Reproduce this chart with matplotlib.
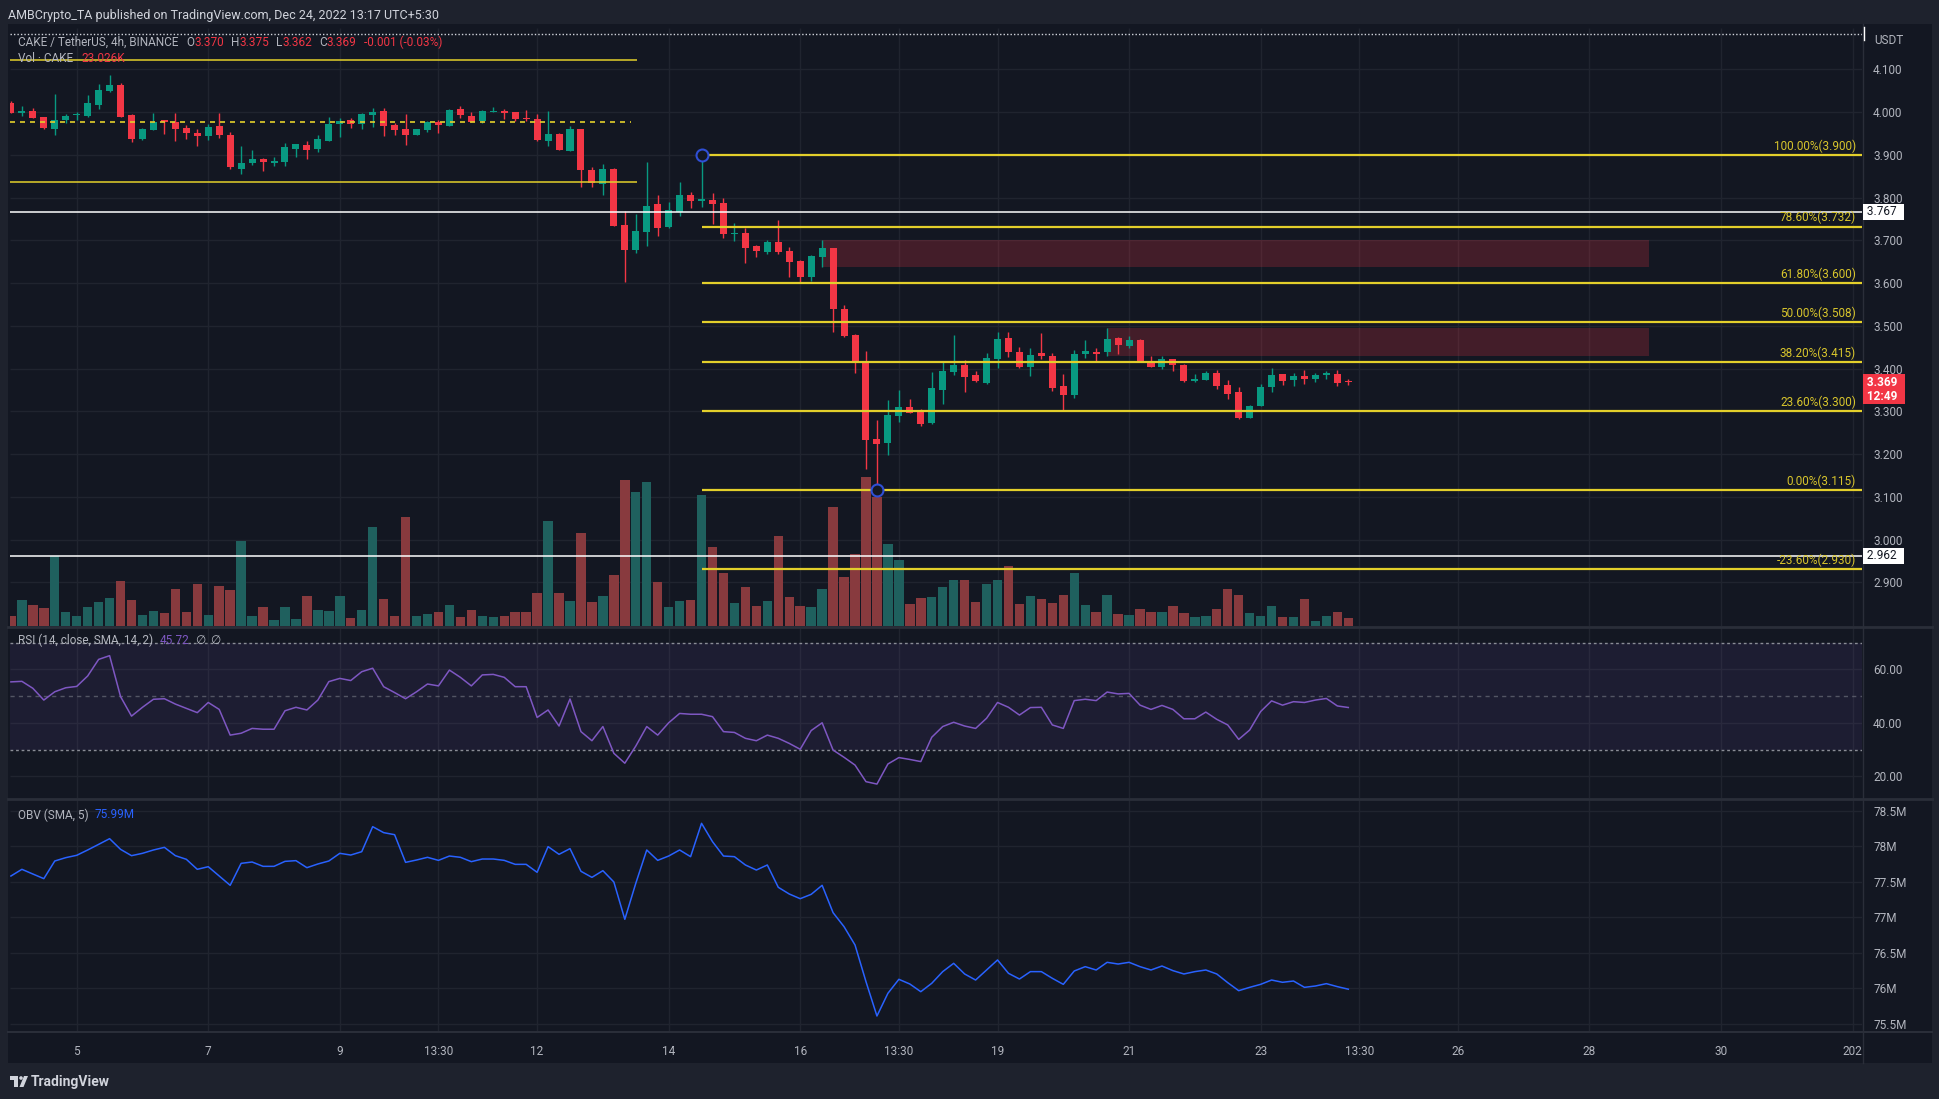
import matplotlib
matplotlib.use('Agg')
import matplotlib.pyplot as plt
from matplotlib.patches import Rectangle, Polygon, Circle
from matplotlib.transforms import blended_transform_factory as blend
from matplotlib.ticker import FuncFormatter
import numpy as np
import pandas as pd

# ---------------------------------------------------------------- data
first_bar = '2022-12-04 01:30'
bar_freq = '4h'

opens = [4.021,3.999,4.003,3.989,3.961,3.982,3.993,3.991,4.017,4.049,
         4.063,3.993,3.937,3.958,3.982,3.977,3.963,3.951,3.944,3.968,
         3.946,3.867,3.881,3.890,3.882,3.883,3.914,3.923,3.914,3.932,
         3.972,3.982,3.972,3.993,4.003,3.970,3.961,3.946,3.958,3.977,
         3.968,4.007,3.991,3.979,4.000,4.003,4.000,3.986,3.984,3.932,
         3.949,3.909,3.961,3.865,3.832,3.867,3.736,3.677,3.720,3.785,
         3.731,3.766,3.806,3.793,3.795,3.787,3.715,3.717,3.687,3.673,
         3.696,3.675,3.652,3.614,3.661,3.682,3.539,3.478,3.415,3.235,
         3.226,3.290,3.310,3.299,3.273,3.350,3.392,3.408,3.385,3.366,
         3.422,3.472,3.439,3.404,3.437,3.430,3.359,3.338,3.434,3.439,
         3.439,3.472,3.453,3.467,3.418,3.404,3.422,3.408,3.371,3.373,
         3.390,3.362,3.345,3.284,3.312,3.357,3.387,3.373,3.383,3.376,
         3.385,3.387,3.370]
highs = [4.026,4.014,4.010,3.989,4.042,3.996,4.000,4.040,4.066,4.087,
         4.068,3.996,3.963,3.998,3.982,3.999,3.970,3.960,3.972,3.998,
         3.954,3.921,3.911,3.893,3.895,3.928,3.925,3.932,3.946,3.989,
         3.986,3.986,3.998,4.010,4.010,3.975,3.996,3.961,3.979,3.982,
         4.007,4.014,4.000,4.005,4.012,4.007,4.000,4.005,3.996,4.003,
         3.951,3.968,3.961,3.872,3.879,3.869,3.769,3.762,3.883,3.806,
         3.790,3.837,3.813,3.900,3.811,3.799,3.741,3.729,3.689,3.701,
         3.748,3.684,3.654,3.666,3.701,3.682,3.549,3.481,3.441,3.280,
         3.326,3.350,3.329,3.305,3.392,3.418,3.479,3.420,3.394,3.436,
         3.486,3.486,3.451,3.448,3.483,3.437,3.387,3.444,3.467,3.448,
         3.495,3.474,3.476,3.469,3.429,3.429,3.422,3.411,3.387,3.394,
         3.397,3.373,3.357,3.315,3.364,3.401,3.387,3.390,3.397,3.390,
         3.394,3.397,3.375]
lows = [3.999,3.992,3.987,3.961,3.946,3.975,3.982,3.989,4.007,4.048,
        3.989,3.929,3.936,3.958,3.950,3.932,3.937,3.921,3.935,3.939,
        3.867,3.855,3.876,3.862,3.874,3.874,3.895,3.890,3.907,3.932,
        3.942,3.963,3.961,3.965,3.944,3.946,3.923,3.946,3.953,3.951,
        3.968,3.986,3.978,3.975,4.000,3.984,3.979,3.979,3.932,3.921,
        3.911,3.909,3.825,3.825,3.806,3.734,3.602,3.670,3.687,3.710,
        3.729,3.757,3.776,3.778,3.738,3.705,3.698,3.647,3.661,3.668,
        3.668,3.614,3.600,3.605,3.638,3.486,3.474,3.390,3.165,3.115,
        3.198,3.276,3.295,3.266,3.270,3.317,3.385,3.345,3.369,3.364,
        3.401,3.427,3.401,3.383,3.422,3.348,3.303,3.331,3.425,3.418,
        3.430,3.434,3.448,3.415,3.404,3.399,3.394,3.369,3.369,3.373,
        3.352,3.329,3.282,3.284,3.312,3.345,3.362,3.359,3.364,3.369,
        3.376,3.359,3.362]
closes = [3.999,4.003,3.987,3.963,3.982,3.992,3.995,4.021,4.052,4.063,
          3.989,3.938,3.961,3.977,3.977,3.961,3.951,3.944,3.965,3.946,
          3.872,3.881,3.890,3.884,3.886,3.918,3.925,3.911,3.937,3.972,
          3.979,3.972,3.996,4.000,3.968,3.958,3.946,3.961,3.977,3.970,
          4.005,3.993,3.978,4.003,4.002,3.998,3.984,3.984,3.935,3.949,
          3.911,3.961,3.865,3.834,3.867,3.734,3.677,3.722,3.780,3.729,
          3.771,3.806,3.792,3.797,3.785,3.715,3.717,3.682,3.675,3.696,
          3.673,3.649,3.614,3.663,3.682,3.539,3.476,3.415,3.233,3.224,
          3.291,3.310,3.295,3.270,3.355,3.394,3.408,3.380,3.371,3.425,
          3.469,3.439,3.404,3.432,3.430,3.355,3.338,3.434,3.441,3.434,
          3.469,3.455,3.467,3.418,3.404,3.422,3.408,3.371,3.376,3.390,
          3.359,3.341,3.284,3.312,3.357,3.385,3.371,3.383,3.376,3.385,
          3.390,3.366,3.369]
volume_k = [29,75,60,52,202,40,29,55,69,81,
            130,75,32,43,37,107,40,121,32,115,
            104,245,29,55,17,55,20,86,46,43,
            86,23,46,285,78,29,314,29,35,40,
            60,26,46,29,26,29,40,40,95,302,
            95,72,268,69,86,147,420,386,415,127,
            55,72,75,377,228,153,66,112,58,72,
            259,84,58,55,107,343,141,207,429,372,
            236,190,63,81,84,112,132,132,69,121,
            132,173,63,86,78,66,89,153,60,40,
            89,35,32,49,40,40,58,37,26,29,
            49,107,89,37,29,58,26,26,78,14,
            29,40,23.026]
rsi = [55.3,55.5,52.9,48.5,51.6,53.1,53.6,57.5,63.7,65.1,
       49.8,42.5,45.8,48.8,49.0,47.0,45.4,43.8,47.6,45.0,
       35.4,36.1,37.9,37.6,37.6,44.5,45.8,44.8,48.5,55.4,
       56.6,55.8,59.1,60.4,53.5,51.3,49.0,51.6,54.5,53.8,
       59.7,57.0,53.8,57.9,58.1,57.0,53.5,53.5,42.0,44.8,
       38.8,48.9,36.7,33.3,38.6,28.6,24.9,31.3,38.6,35.4,
       40.0,43.5,43.2,43.2,42.3,36.7,36.4,34.2,33.3,35.4,
       34.2,32.3,30.1,37.1,40.0,29.8,27.1,24.2,18.0,17.1,
       24.6,27.0,26.3,25.5,34.6,38.6,40.2,38.8,37.9,41.7,
       47.6,45.8,42.9,45.7,45.8,39.2,37.9,48.3,48.8,48.3,
       51.5,50.8,51.0,46.6,45.0,46.5,45.0,41.5,41.5,44.0,
       41.3,39.2,33.8,37.3,44.2,48.2,46.6,47.9,47.6,48.5,
       49.1,46.3,45.72]
obv_m = [77.582,77.676,77.610,77.545,77.793,77.840,77.873,77.948,78.027,78.107,
         77.957,77.868,77.901,77.948,77.985,77.868,77.817,77.676,77.713,77.582,
         77.451,77.760,77.779,77.718,77.718,77.788,77.798,77.699,77.751,77.793,
         77.901,77.877,77.924,78.276,78.192,78.163,77.774,77.807,77.845,77.802,
         77.863,77.845,77.784,77.821,77.821,77.802,77.746,77.746,77.634,77.995,
         77.887,77.967,77.648,77.563,77.657,77.498,76.973,77.479,77.948,77.802,
         77.863,77.948,77.854,78.323,78.065,77.863,77.854,77.737,77.666,77.737,
         77.423,77.329,77.263,77.324,77.451,77.066,76.869,76.612,76.096,75.613,
         75.932,76.129,76.063,75.955,76.073,76.237,76.354,76.204,76.119,76.260,
         76.401,76.213,76.133,76.237,76.237,76.143,76.058,76.246,76.307,76.260,
         76.368,76.344,76.368,76.307,76.260,76.316,76.251,76.204,76.237,76.260,
         76.204,76.082,75.969,76.016,76.058,76.119,76.087,76.105,76.016,76.035,
         76.068,76.026,75.99]

price_ticks = [2.9, 3.0, 3.1, 3.2, 3.3, 3.4, 3.5, 3.6, 3.7, 3.8, 3.9, 4.0, 4.1]
rsi_ticks = [20, 40, 60]
obv_ticks = [75.5, 76.0, 76.5, 77.0, 77.5, 78.0, 78.5]
tick_times = ['2022-12-05 01:30', '2022-12-07 01:30', '2022-12-09 01:30', '2022-12-10 13:30',
              '2022-12-12 01:30', '2022-12-14 01:30', '2022-12-16 01:30', '2022-12-17 13:30',
              '2022-12-19 01:30', '2022-12-21 01:30', '2022-12-23 01:30', '2022-12-24 13:30',
              '2022-12-26 01:30', '2022-12-28 01:30', '2022-12-30 01:30', '2023-01-01 01:30']
tick_labels = ['5', '7', '9', '13:30', '12', '14', '16', '13:30', '19', '21', '23', '13:30',
               '26', '28', '30', '202']

fib_labels = ['100.00%', '78.60%', '61.80%', '50.00%', '38.20%', '23.60%', '0.00%', '-23.60%']
fib_prices = [3.900, 3.732, 3.600, 3.508, 3.415, 3.300, 3.115, 2.930]
fib_high_bar = 63
fib_low_bar = 79
zones = [(74, 149.4, 3.638, 3.701), (100, 149.4, 3.4295, 3.495)]
yellow_solid_lines = [4.121, 3.837]
yellow_solid_end = 57.1
yellow_dashed_line = 3.978
yellow_dashed_end = 56.6
white_lines = [3.767, 2.962]
dotted_line = 4.184
last_price = 3.369

# ---------------------------------------------------------------- style
plt.rcParams['font.family'] = ['Roboto', 'DejaVu Sans']
W, H = 1940, 1099
BG = '#131722'; FRAME = '#1e222d'; GRID = '#20242f'; SEP = '#2a2e39'
TXT = '#b2b5be'; UP = '#089981'; DN = '#f23645'
UPV = '#1f605e'; DNV = '#883a3e'
FIB = '#e3cf2b'; FIBT = '#d8c52c'
FS = 8.5

o = np.array(opens); h = np.array(highs); l = np.array(lows); c = np.array(closes)
idx = np.arange(len(c))
up = c >= o
cols = [UP if u else DN for u in up]
vcols = [UPV if u else DNV for u in up]
t0 = pd.Timestamp(first_bar)
tick_pos = [(pd.Timestamp(t) - t0) / pd.Timedelta(bar_freq) for t in tick_times]

fig = plt.figure(figsize=(W / 100, H / 100), dpi=100, facecolor=FRAME)


def px_rect(x0, y0, x1, y1):
    return [x0 / W, 1 - y1 / H, (x1 - x0) / W, (y1 - y0) / H]


bk = fig.add_axes([0, 0, 1, 1], zorder=-5)
bk.set_xlim(0, W); bk.set_ylim(H, 0); bk.axis('off')
bk.add_patch(Rectangle((8, 24), 1924, 1039, fc=BG, ec='none'))

XL = (-0.085, 168.86)
main_rect = px_rect(10, 28, 1862, 626)
axv = fig.add_axes(main_rect, zorder=1)
ax = fig.add_axes(main_rect, zorder=2, sharex=axv)
axr = fig.add_axes(px_rect(10, 628, 1862, 798), zorder=1, sharex=axv)
axo = fig.add_axes(px_rect(10, 800, 1862, 1031), zorder=1, sharex=axv)
for a in (axv, ax, axr, axo):
    a.set_facecolor('none')
    for s in a.spines.values():
        s.set_visible(False)
ax.patch.set_visible(False)
axv.set_xlim(*XL)
ax.set_ylim(2.7977, 4.1969)
axr.set_ylim(11.89, 75.44)
axo.set_ylim(75.402, 78.651)

# grid
axv.hlines(price_ticks, 0, 1, transform=blend(axv.transAxes, ax.transData), colors=GRID, lw=1, zorder=0)
axr.hlines(rsi_ticks, 0, 1, transform=blend(axr.transAxes, axr.transData), colors=GRID, lw=1, zorder=0)
axo.hlines(obv_ticks, 0, 1, transform=blend(axo.transAxes, axo.transData), colors=GRID, lw=1, zorder=0)
for a in (axv, axr, axo):
    a.vlines(tick_pos, 0, 1, transform=blend(a.transData, a.transAxes), colors=GRID, lw=1, zorder=0)

# volume
axv.bar(idx, volume_k, width=0.86, color=vcols, zorder=2, linewidth=0)
axv.set_ylim(0, 1722)
axv.set_yticks([])

# zones
for x0, x1, lo, hi in zones:
    ax.add_patch(Rectangle((x0, lo), x1 - x0, hi - lo, fc=DN, alpha=0.22, ec='none', zorder=3))

# candles
ax.vlines(idx, l, h, colors=cols, lw=1.0, zorder=5)
ax.bar(idx, np.maximum(np.abs(c - o), 0.0025), bottom=np.minimum(o, c), width=0.64,
       color=cols, zorder=6, linewidth=0)

# drawings
ax.hlines(yellow_solid_lines, XL[0], yellow_solid_end, colors=FIB, lw=1.1, zorder=7)
ax.hlines(yellow_dashed_line, XL[0], yellow_dashed_end, colors=FIB, lw=1.2,
          linestyles=(0, (3, 3)), zorder=7)
ax.hlines(white_lines, XL[0], XL[1], colors='white', lw=1.1, zorder=7)
ax.hlines(dotted_line, XL[0], XL[1], colors='#d1d4dc', lw=1.0, linestyles=(0, (1, 1.5)), zorder=7)
ax.hlines(fib_prices, fib_high_bar, XL[1], colors=FIB, lw=1.6, zorder=7)
ax.plot([fib_high_bar, fib_low_bar], [fib_prices[0], fib_prices[6]], 'o', ms=8.6, mfc=BG,
        mec='#2f4fd6', mew=1.5, zorder=8)

# RSI
axr.axhspan(30, 70, color='#7e57c2', alpha=0.1, lw=0, zorder=1)
axr.axhline(70, color='#8a8d96', lw=1, ls=(0, (2, 2)), zorder=2)
axr.axhline(30, color='#8a8d96', lw=1, ls=(0, (2, 2)), zorder=2)
axr.axhline(50, color='#787b86', lw=1, ls=(0, (3, 3)), alpha=0.6, zorder=2)
axr.plot(idx, rsi, color='#7e57c2', lw=1.1, zorder=3)

# OBV
axo.plot(idx, obv_m, color='#2962ff', lw=1.1, zorder=3)

# ticks
for a in (ax, axr, axo):
    a.yaxis.tick_right()
    a.tick_params(axis='y', length=0, pad=8, labelsize=FS, labelcolor=TXT)
ax.set_yticks(price_ticks)
ax.yaxis.set_major_formatter(FuncFormatter(lambda v, p: f'{v:.3f}'))
axr.set_yticks(rsi_ticks)
axr.yaxis.set_major_formatter(FuncFormatter(lambda v, p: f'{v:.2f}'))
axo.set_yticks(obv_ticks)
axo.yaxis.set_major_formatter(FuncFormatter(lambda v, p: f'{v:g}M'))
axo.set_xticks(tick_pos)
axo.set_xticklabels(tick_labels)
for a in (axv, ax, axr):
    a.tick_params(axis='x', length=0, labelbottom=False)
axo.tick_params(axis='x', length=0, pad=10, labelsize=FS, labelcolor=TXT)

# ---------------------------------------------------------------- overlay texts
ov = fig.add_axes([0, 0, 1, 1], zorder=10)
ov.set_xlim(0, W); ov.set_ylim(H, 0); ov.axis('off')

for y in (627, 799):
    ov.plot([8, 1932], [y, y], color=SEP, lw=2)
ov.plot([8, 1932], [1032, 1032], color=SEP, lw=1.5)
ov.plot([1863, 1863], [24, 1063], color=SEP, lw=1)
ov.plot([1864, 1864], [27, 40], color='white', lw=1)

ov.text(8, 15, 'AMBCrypto_TA published on TradingView.com, Dec 24, 2022 13:17 UTC+5:30',
        color='#d1d4dc', fontsize=9, va='center', ha='left')


def chain(x, y, parts, size=FS, gap=4):
    t = ov.text(x, y, parts[0][0], color=parts[0][1], fontsize=size, va='center', ha='left')
    for item in parts[1:]:
        g = item[2] if len(item) > 2 else gap
        t = ov.annotate(item[0], xy=(1, 0.5), xycoords=t, xytext=(g, 0), textcoords='offset pixels',
                        color=item[1], fontsize=size, va='center', ha='left', annotation_clip=False)
    return t


chain(18, 42.5, [('CAKE / TetherUS, 4h, BINANCE', TXT), ('O', TXT, 8), ('3.370', DN, 0),
                 ('H', TXT, 7), ('3.375', DN, 0), ('L', TXT, 7), ('3.362', DN, 0),
                 ('C', TXT, 7), ('3.369', DN, 0), ('-0.001 (-0.03%)', DN, 7)])
chain(18, 58.5, [('Vol · CAKE', TXT), ('23.026K', DN, 8)])
chain(18, 640.5, [('RSI (14, close, SMA, 14, 2)', TXT), ('45.72', '#7e57c2', 7),
                  ('∅', TXT, 5), ('∅', TXT, 5)])
chain(18, 815, [('OBV (SMA, 5)', TXT), ('75.99M', '#2962ff', 6)])

ov.text(1874, 40, 'USDT', color=TXT, fontsize=FS, va='center', ha='left')

pt = blend(ov.transData, ax.transData)
for lab, p in zip(fib_labels, fib_prices):
    ov.annotate(f'{lab}({p:.3f})', xy=(1856, p), xycoords=pt, xytext=(0, 9),
                textcoords='offset pixels', ha='right', va='center', color=FIBT, fontsize=FS,
                annotation_clip=False)
for p in white_lines:
    ov.annotate(f' {p:.3f}  ', xy=(1864, p), xycoords=pt, ha='left', va='center', fontsize=FS,
                color='#131722', annotation_clip=False,
                bbox=dict(boxstyle='square,pad=0.12', fc='white', ec='none'))
ov.annotate(f' {last_price:.3f}  \n 12:49  ', xy=(1864, last_price), xycoords=pt, xytext=(0, 6),
            textcoords='offset pixels', ha='left', va='top', fontsize=FS, color='white',
            linespacing=1.1, annotation_clip=False, fontweight='bold',
            bbox=dict(boxstyle='square,pad=0.12', fc=DN, ec='none'))

# footer logo + name
ov.add_patch(Rectangle((10, 1076), 8, 3.5, fc='#d1d4dc', ec='none'))
ov.add_patch(Rectangle((14.5, 1076), 3.5, 11, fc='#d1d4dc', ec='none'))
ov.add_patch(Circle((21, 1078), 1.8, fc='#d1d4dc', ec='none'))
ov.add_patch(Polygon([(24, 1076), (28, 1076), (23.5, 1087), (19.5, 1087)], fc='#d1d4dc', ec='none'))
ov.text(31, 1082, 'TradingView', color='#d1d4dc', fontsize=10, fontweight='bold',
        va='center', ha='left')

fig.savefig('out.png', dpi=100, facecolor=FRAME)
